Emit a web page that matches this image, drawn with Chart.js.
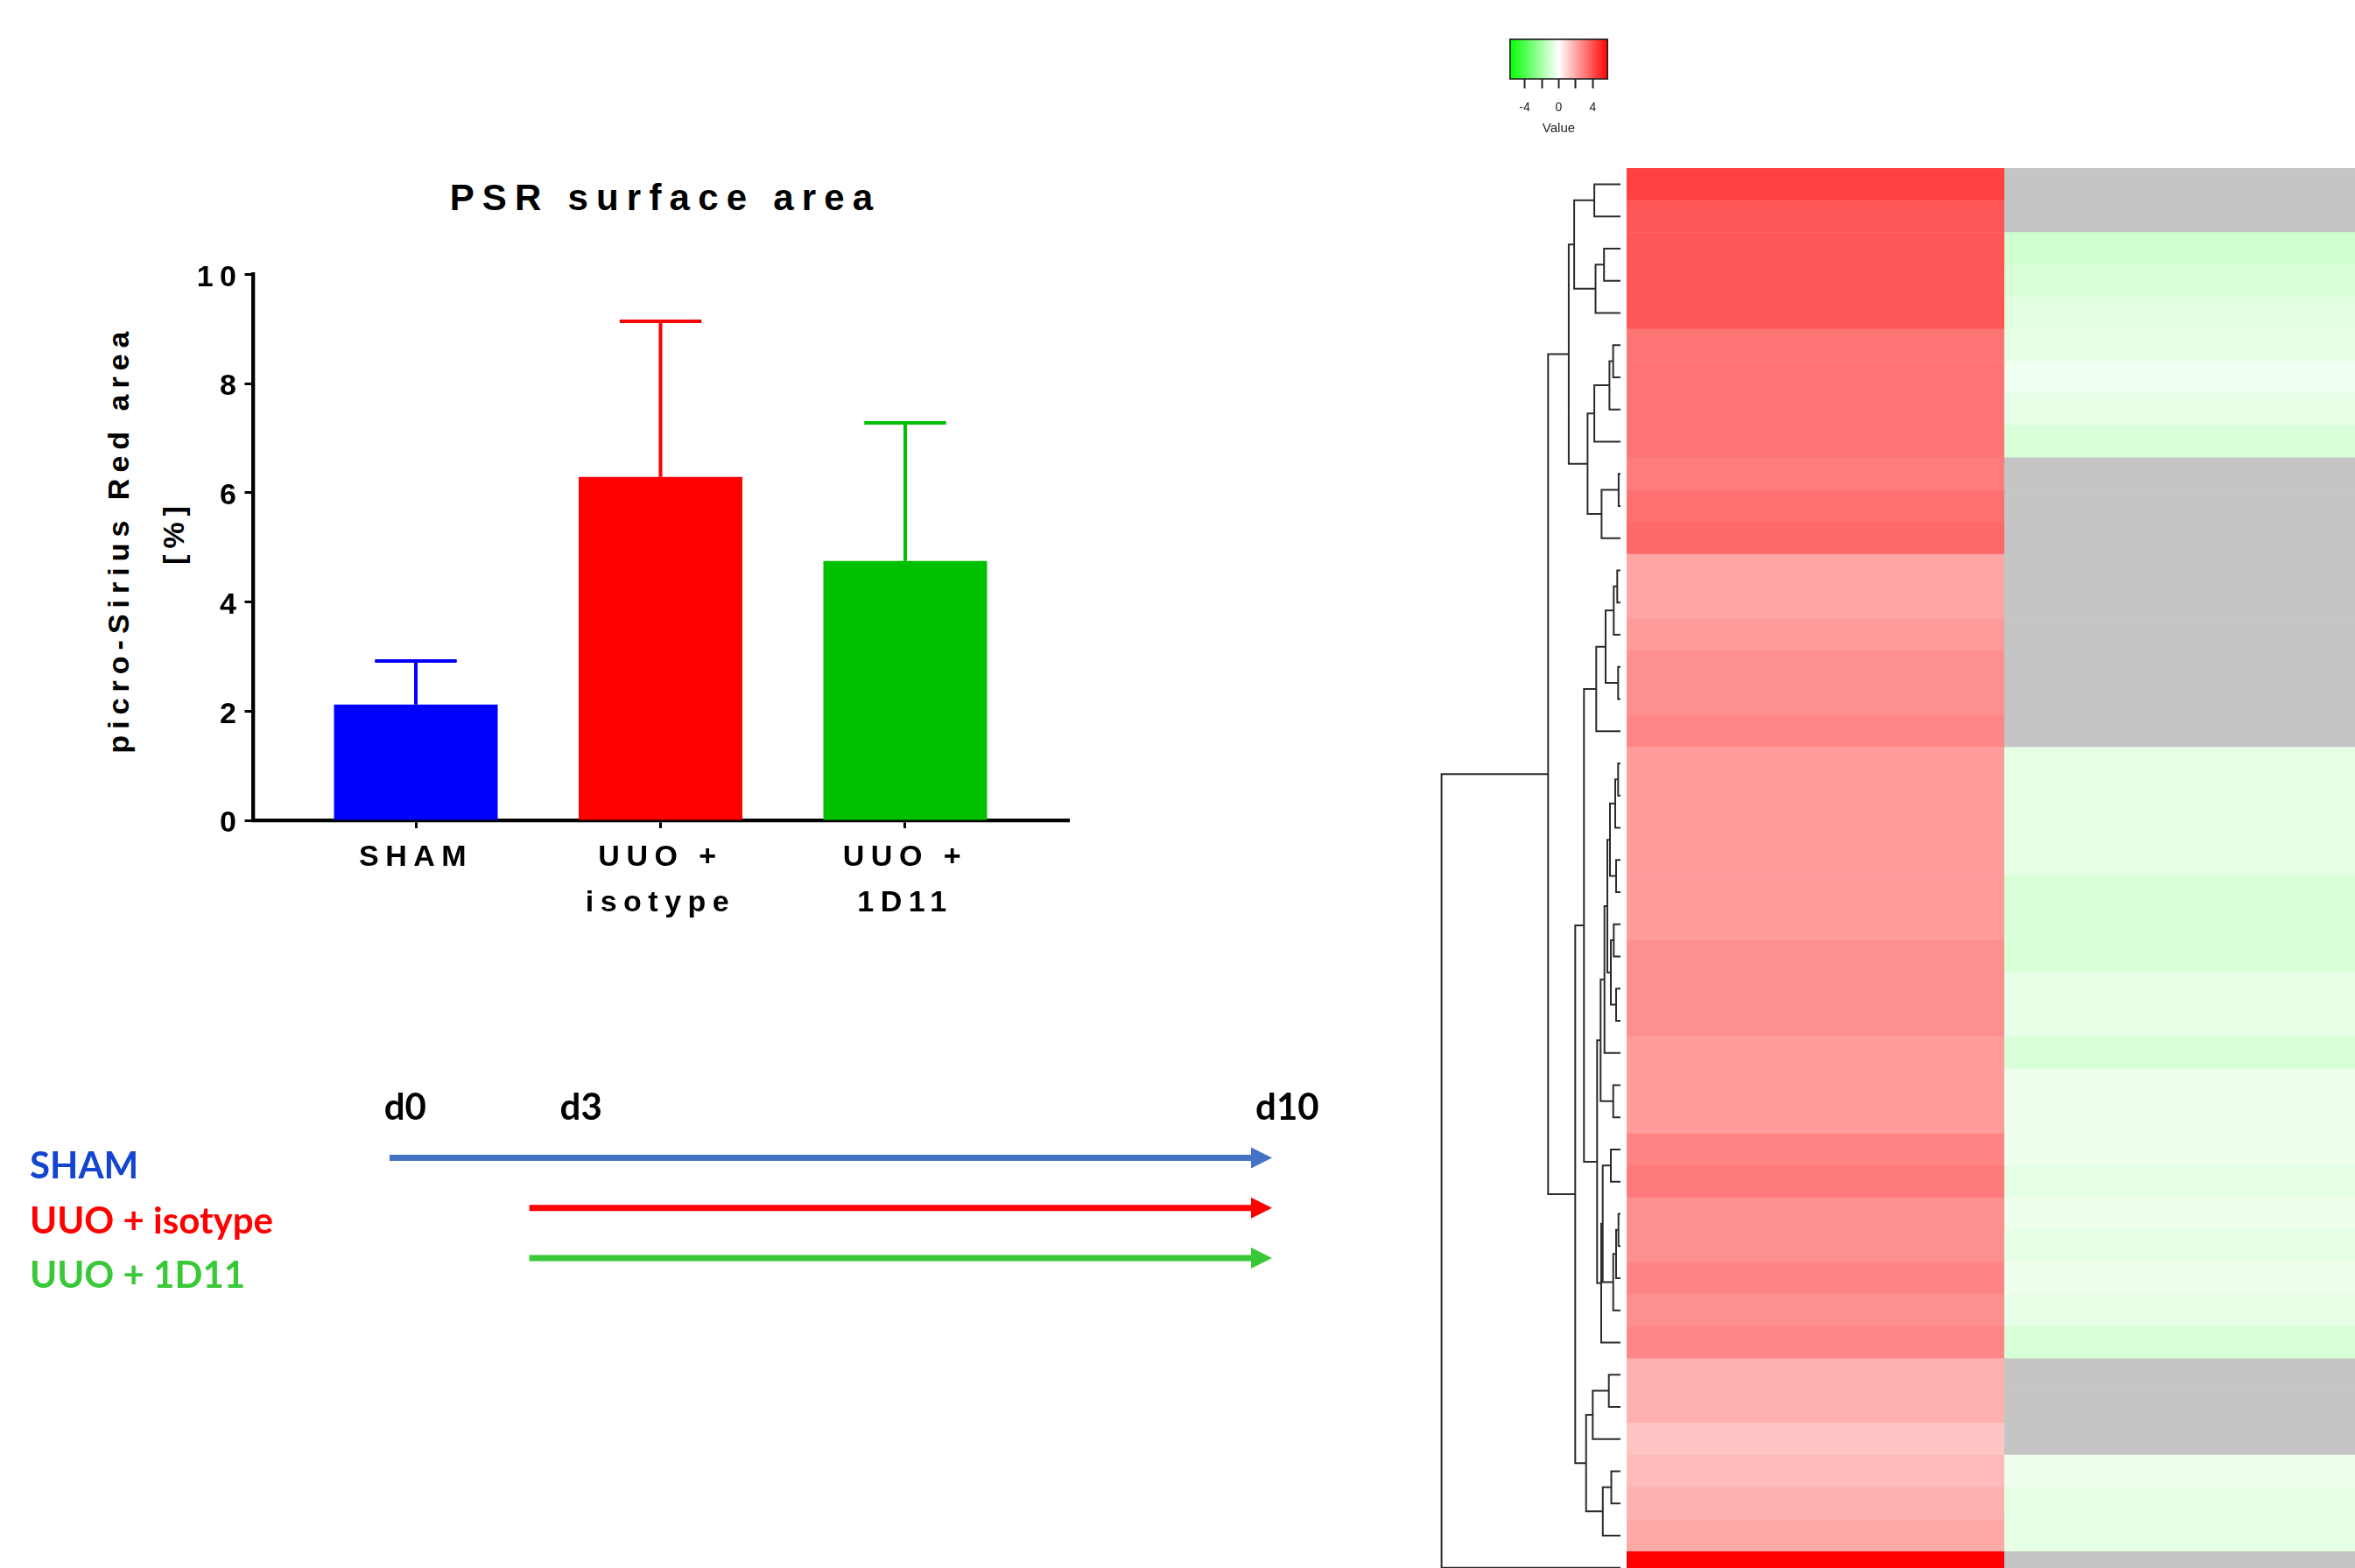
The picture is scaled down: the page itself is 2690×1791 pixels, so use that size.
<!DOCTYPE html>
<html>
<head>
<meta charset="utf-8">
<title>PSR surface area</title>
<script src="https://cdn.jsdelivr.net/npm/chart.js@4.4.1/dist/chart.umd.min.js"></script>
<style>
  html, body { margin: 0; padding: 0; background: #fff; }
  body { position: relative; width: 2690px; height: 1791px; overflow: hidden;
         font-family: "Liberation Sans", Arial, sans-serif; color: #000; }
  .panel { position: absolute; }
  .panel canvas { display: block; }
  .txt { position: absolute; white-space: nowrap; font-weight: bold; line-height: 1; }
  #barTitle { left: 760px; top: 226px; font-size: 42px; letter-spacing: 9.2px; transform: translate(-50%, -50%); }
  #yTitle1, #yTitle2 { font-size: 34px; letter-spacing: 7px; transform: translate(-50%, -50%) rotate(-90deg); }
  #yTitle1 { left: 135px; top: 616px; }
  #yTitle2 { left: 198px; top: 608px; }
  .grp { position: absolute; left: 34px; font-family: Lato, "Open Sans", sans-serif; font-weight: bold;
         font-size: 42px; line-height: 1; transform: translateY(-50%); white-space: nowrap; }
</style>
</head>
<body>

<div class="txt" id="barTitle">PSR surface area</div>
<div class="txt" id="yTitle1">picro-Sirius Red area</div>
<div class="txt" id="yTitle2">[%]</div>

<div class="panel" style="left:0;top:150px"><canvas id="bars" width="1300" height="960"></canvas></div>
<div class="panel" style="left:0;top:1220px"><canvas id="timeline" width="1560" height="280"></canvas></div>
<div class="panel" style="left:1700px;top:30px"><canvas id="key" width="160" height="140"></canvas></div>
<div class="panel" style="left:1630px;top:192px"><canvas id="dendro" width="221" height="1617"></canvas></div>
<div class="panel" style="left:1858px;top:192px"><canvas id="heat" width="862" height="1617"></canvas></div>

<script>
/* ------------------------------------------------ */
// bar chart

const groupLabels = ['SHAM', ['UUO +', 'isotype'], ['UUO +', '1D11']];
const psrMean = [2.12, 6.29, 4.75];
const psrSD = [0.80, 2.85, 2.53];
const barColors = ['#0000ff', '#ff0000', '#00c000'];
const yTickVals = [0, 2, 4, 6, 8, 10];

/* ------------------------------------------------ */
// timeline

const tlGroups = ['SHAM', 'UUO + isotype', 'UUO + 1D11'];
const tlTextColors = ['#1445cf', '#ff0000', '#38c838'];
const arrowColors = ['#4472c4', '#ff0000', '#38c838'];
const arrowStart = [0, 1.62, 1.62];
const arrowEnd = [10, 10, 10];
const dayLabels = ['d0', 'd3', 'd10'];
const dayPos = [0.18, 2.22, 10.41];

/* ------------------------------------------------ */
// heatmap, colour key and row dendrogram

const keyMax = 5.8;
const keyTicks = [-4, -2, 0, 2, 4];
const keyTickLabels = ['-4', '', '0', '', '4'];

const leftVals = [4.34, 3.82, 3.82, 3.82, 3.82, 3.14, 3.14, 3.14, 3.14, 2.96, 3.25, 3.43,
  2.05, 2.05, 2.27, 2.52, 2.52, 2.73, 2.25, 2.25, 2.25, 2.25, 2.25, 2.25, 2.52, 2.52, 2.52,
  2.25, 2.25, 2.25, 2.77, 3.02, 2.52, 2.52, 2.77, 2.52, 2.73, 1.80, 1.80, 1.34, 1.57, 1.80,
  1.98, 5.80];
const rightVals = [null, null, -1.07, -0.89, -0.66, -0.61, -0.34, -0.57, -0.89,
  null, null, null, null, null, null, null, null, null,
  -0.61, -0.61, -0.61, -0.61, -0.89, -0.89, -0.89, -0.57, -0.57, -0.89, -0.39, -0.39, -0.39,
  -0.61, -0.39, -0.61, -0.39, -0.57, -0.89, null, null, null, -0.39, -0.61, -0.61, null];

// merges: node 44 + k joins mergeA[k] and mergeB[k] at height mergeH[k]
const mergeA = [0, 2, 45, 44, 5, 48, 49, 9, 51, 50, 47, 12, 55, 15, 56, 58, 18, 60, 21, 61, 23, 25,
  64, 63, 67, 28, 68, 30, 32, 72, 73, 71, 75, 70, 59, 37, 79, 40, 81, 80, 78, 54, 85];
const mergeB = [1, 3, 4, 46, 6, 7, 8, 10, 11, 52, 53, 13, 14, 16, 57, 17, 19, 20, 22, 62, 24, 26,
  65, 66, 27, 29, 69, 31, 33, 34, 35, 74, 36, 76, 77, 38, 39, 41, 42, 82, 83, 84, 43];
const mergeH = [29.9, 18.8, 28.5, 52.9, 8.4, 12.6, 29.9, 2.1, 21.6, 37.6, 59.1, 3.7, 7.7, 2.7, 17,
  27.7, 2.7, 6, 5, 12, 7.7, 5, 11, 15, 18.3, 8.3, 22.7, 11, 2.3, 5, 8.3, 20.3, 22, 26.7, 41.7,
  13.3, 31.7, 10.5, 20.2, 39.3, 51.7, 82.7, 204.4];

const naColor = '#c5c5c5';

/* ------------------------------------------------ */

Chart.defaults.font.family = '"Liberation Sans", Arial, sans-serif';
Chart.defaults.color = '#000';

function colorFor(v) {
  if (v === null) return naColor;
  let t = Math.min(Math.abs(v) / keyMax, 1);
  let c = Math.round(255 * (1 - t));
  return v >= 0 ? `rgb(255,${c},${c})` : `rgb(${c},255,${c})`;
}

let noUi = { legend: { display: false }, tooltip: { enabled: false } };

/* ------------------------------------------------ */

function drawBars() {
  let spacedText = {
    id: 'spacedText',
    beforeLayout(chart) { chart.ctx.letterSpacing = '7.5px'; },
    beforeDraw(chart) { chart.ctx.letterSpacing = '7.5px'; },
  };

  let errorBars = {
    id: 'errorBars',
    afterDatasetsDraw(chart) {
      let ctx = chart.ctx;
      let x = chart.scales.x;
      let y = chart.scales.y;
      let bars = chart.getDatasetMeta(0).data;
      ctx.save();
      ctx.lineWidth = 4;
      psrMean.forEach((m, i) => {
        let px = x.getPixelForValue(i);
        let y0 = y.getPixelForValue(m);
        let y1 = y.getPixelForValue(m + psrSD[i]);
        let half = bars[i].width / 4;
        ctx.strokeStyle = barColors[i];
        ctx.beginPath();
        ctx.moveTo(px, y0);
        ctx.lineTo(px, y1);
        ctx.moveTo(px - half, y1);
        ctx.lineTo(px + half, y1);
        ctx.stroke();
      });
      ctx.restore();
    }
  };

  let tickFont = { size: 34, weight: 'bold', lineHeight: 1.53 };

  new Chart(document.getElementById('bars'), {
    type: 'bar',
    data: {
      datasets: [{
        data: psrMean.map((y, i) => ({ x: i, y: y })),
        backgroundColor: barColors,
        borderWidth: 0,
        barPercentage: 0.669,
        categoryPercentage: 1,
      }]
    },
    options: {
      responsive: false,
      animation: false,
      events: [],
      layout: { padding: { left: 0, right: 78.6, top: 163.3, bottom: 0 } },
      plugins: noUi,
      scales: {
        x: {
          type: 'linear',
          offset: false,
          min: -0.6637,
          max: 2.6705,
          z: 1,
          afterBuildTicks: (axis) => { axis.ticks = groupLabels.map((g, i) => ({ value: i })); },
          afterFit: (axis) => { axis.height = 173; },
          grid: { offset: false, drawOnChartArea: false, tickLength: 9, tickWidth: 3, tickColor: '#000' },
          border: { display: true, width: 4.3, color: '#000' },
          ticks: {
            callback: (v, i) => groupLabels[i],
            font: tickFont,
            color: '#000',
            padding: 8,
            maxRotation: 0,
            autoSkip: false,
          },
        },
        y: {
          min: 0,
          max: 10,
          z: 1,
          afterBuildTicks: (axis) => { axis.ticks = yTickVals.map((v) => ({ value: v })); },
          afterFit: (axis) => { axis.width = 289.5; },
          grid: { drawOnChartArea: false, tickLength: 10, tickWidth: 3, tickColor: '#000' },
          border: { display: true, width: 4.3, color: '#000' },
          ticks: { font: { size: 34, weight: 'bold' }, color: '#000', padding: 2, labelOffset: 4 },
        },
      },
    },
    plugins: [spacedText, errorBars],
  });
}

/* ------------------------------------------------ */

function drawTimeline() {
  let grpTop = [1330, 1393, 1455];
  tlGroups.forEach((g, i) => {
    let div = document.createElement('div');
    div.className = 'grp';
    div.textContent = g;
    div.style.top = grpTop[i] + 'px';
    div.style.color = tlTextColors[i];
    document.body.appendChild(div);
  });

  let arrowHeads = {
    id: 'arrowHeads',
    afterDatasetsDraw(chart) {
      let ctx = chart.ctx;
      let x = chart.scales.x;
      let y = chart.scales.y;
      ctx.save();
      arrowEnd.forEach((v, i) => {
        let px = x.getPixelForValue(v);
        let py = y.getPixelForValue(i);
        ctx.fillStyle = arrowColors[i];
        ctx.beginPath();
        ctx.moveTo(px - 1, py - 12);
        ctx.lineTo(px + 23, py);
        ctx.lineTo(px - 1, py + 12);
        ctx.closePath();
        ctx.fill();
      });
      ctx.restore();
    }
  };

  let datasets = tlGroups.map((g, i) => ({
    label: g,
    data: [{ x: arrowStart[i], y: i }, { x: arrowEnd[i], y: i }],
    showLine: true,
    borderColor: arrowColors[i],
    borderWidth: 7,
    borderCapStyle: 'butt',
    pointRadius: 0,
  }));

  new Chart(document.getElementById('timeline'), {
    type: 'scatter',
    data: { datasets: datasets },
    options: {
      responsive: false,
      animation: false,
      events: [],
      layout: { padding: { left: 346.5, right: 31.5, top: 0, bottom: 28.65 } },
      plugins: noUi,
      scales: {
        x: {
          type: 'linear',
          position: 'top',
          min: -1,
          max: 11,
          afterBuildTicks: (axis) => { axis.ticks = dayPos.map((v) => ({ value: v })); },
          afterFit: (axis) => { axis.height = 79.6; },
          grid: { display: false, drawTicks: false },
          border: { display: false },
          ticks: {
            callback: (v, i) => dayLabels[i],
            font: { family: 'Lato, "Open Sans", sans-serif', size: 42, weight: 'bold', lineHeight: 1.2 },
            color: '#000',
            padding: 9,
            maxRotation: 0,
            autoSkip: false,
          },
        },
        y: { type: 'linear', min: -0.4, max: 2.6, reverse: true, display: false },
      },
    },
    plugins: [arrowHeads],
  });
}

/* ------------------------------------------------ */

function drawKey() {
  let keyGradient = (ctx) => {
    let chart = ctx.chart;
    let x = chart.scales.x;
    if (!chart.chartArea || !x) return '#fff';
    let g = chart.ctx.createLinearGradient(x.getPixelForValue(-keyMax), 0, x.getPixelForValue(keyMax), 0);
    g.addColorStop(0, colorFor(-keyMax));
    g.addColorStop(0.5, colorFor(0));
    g.addColorStop(1, colorFor(keyMax));
    return g;
  };

  new Chart(document.getElementById('key'), {
    type: 'bar',
    data: {
      labels: ['Value'],
      datasets: [{
        data: [[-keyMax, keyMax]],
        backgroundColor: keyGradient,
        borderColor: '#222',
        borderWidth: 2,
        borderSkipped: false,
        barPercentage: 1,
        categoryPercentage: 1,
      }]
    },
    options: {
      indexAxis: 'y',
      responsive: false,
      animation: false,
      events: [],
      layout: { padding: { left: 24, right: 23, top: 14, bottom: 0 } },
      plugins: noUi,
      scales: {
        y: { display: false },
        x: {
          type: 'linear',
          min: -keyMax,
          max: keyMax,
          afterBuildTicks: (axis) => { axis.ticks = keyTicks.map((v) => ({ value: v })); },
          afterFit: (axis) => { axis.height = 79; },
          grid: { drawOnChartArea: false, tickLength: 10, tickWidth: 2, tickColor: '#222' },
          border: { display: false },
          ticks: {
            callback: (v, i) => keyTickLabels[i],
            font: { size: 14 },
            color: '#222',
            padding: 13.6,
            maxRotation: 0,
            autoSkip: false,
          },
          title: { display: true, text: 'Value', font: { size: 15 }, color: '#222', padding: { top: 0, bottom: 14 } },
        },
      },
    },
  });
}

/* ------------------------------------------------ */

function drawHeatmap() {
  let rowIds = leftVals.map((v, i) => 'row ' + (i + 1));
  let columns = [
    { span: [0, 1], vals: leftVals },
    { span: [1, 2], vals: rightVals },
  ];

  new Chart(document.getElementById('heat'), {
    type: 'bar',
    data: {
      labels: rowIds,
      datasets: columns.map((col) => ({
        data: rowIds.map(() => col.span),
        backgroundColor: (ctx) => colorFor(col.vals[ctx.dataIndex]),
        borderWidth: 0,
        grouped: false,
        barPercentage: 1,
        categoryPercentage: 1,
      })),
    },
    options: {
      indexAxis: 'y',
      responsive: false,
      animation: false,
      events: [],
      layout: { padding: 0 },
      plugins: noUi,
      scales: {
        x: { type: 'linear', min: 0, max: 2, display: false },
        y: { type: 'category', display: false },
      },
    },
  });
}

/* ------------------------------------------------ */

function drawDendrogram() {
  let leafCount = leftVals.length;
  let nodeY = [];
  let nodeH = [];
  for (let i = 0; i < leafCount; i++) {
    nodeY.push(i);
    nodeH.push(0);
  }

  let segs = [];
  mergeA.forEach((a, k) => {
    let b = mergeB[k];
    let h = mergeH[k];
    nodeY.push((nodeY[a] + nodeY[b]) / 2);
    nodeH.push(h);
    segs.push(
      { x: nodeH[a], y: nodeY[a] },
      { x: h, y: nodeY[a] },
      { x: h, y: nodeY[b] },
      { x: nodeH[b], y: nodeY[b] },
      { x: h, y: null }
    );
  });

  new Chart(document.getElementById('dendro'), {
    type: 'scatter',
    data: {
      datasets: [{
        data: segs,
        showLine: true,
        spanGaps: false,
        borderColor: '#2b2b2b',
        borderWidth: 2,
        borderJoinStyle: 'miter',
        pointRadius: 0,
      }]
    },
    options: {
      responsive: false,
      animation: false,
      events: [],
      layout: { padding: 0 },
      plugins: noUi,
      scales: {
        x: { type: 'linear', min: 0, max: 221, reverse: true, display: false },
        y: { type: 'linear', min: -0.5, max: leafCount - 0.5, reverse: true, display: false },
      },
    },
  });
}

/* ------------------------------------------------ */

drawBars();
drawTimeline();
drawKey();
drawHeatmap();
drawDendrogram();
</script>
</body>
</html>
